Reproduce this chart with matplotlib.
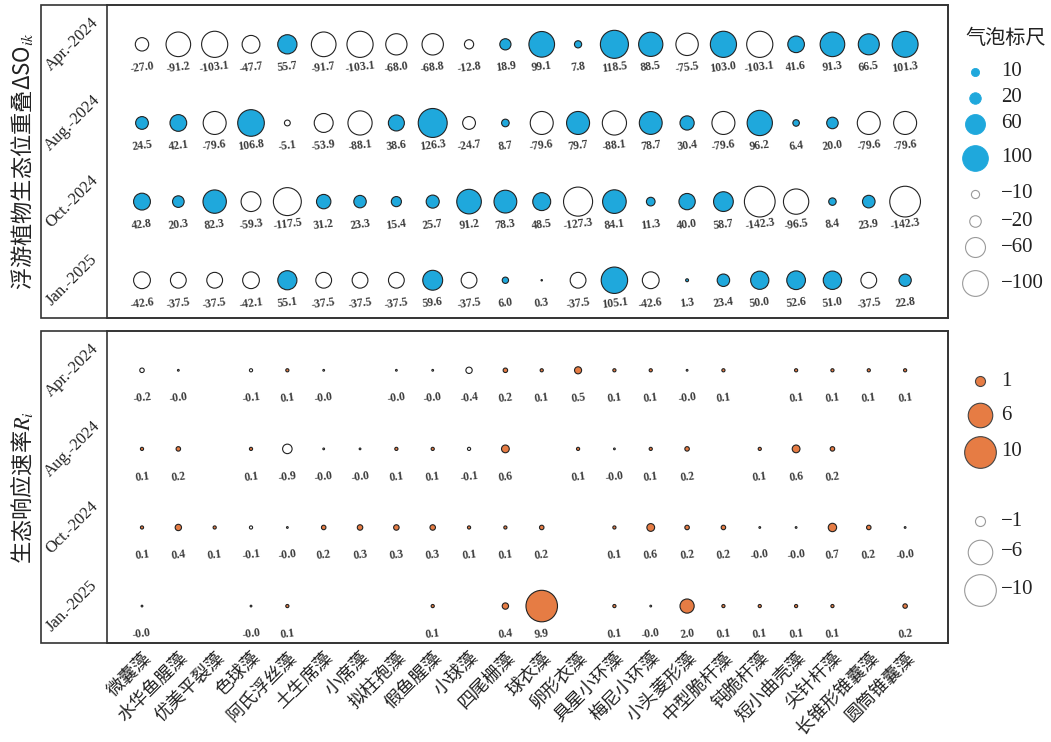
import numpy as np
import matplotlib
matplotlib.use("Agg")
import matplotlib.pyplot as plt
from matplotlib.patches import Rectangle

nan = np.nan

species = ["微囊藻", "水华鱼腥藻", "优美平裂藻", "色球藻", "阿氏浮丝藻", "土生席藻",
           "小席藻", "拟柱孢藻", "假鱼腥藻", "小球藻", "四尾栅藻", "球衣藻", "卵形衣藻",
           "具星小环藻", "梅尼小环藻", "小头菱形藻", "中型脆杆藻", "钝脆杆藻", "短小曲壳藻",
           "尖针杆藻", "长锥形锥囊藻", "圆筒锥囊藻"]
periods = ["Apr.-2024", "Aug.-2024", "Oct.-2024", "Jan.-2025"]

# niche overlap change (ΔSO_ik)
aso_apr = [-27.0, -91.2, -103.1, -47.7, 55.7, -91.7, -103.1, -68.0, -68.8, -12.8, 18.9,
           99.1, 7.8, 118.5, 88.5, -75.5, 103.0, -103.1, 41.6, 91.3, 66.5, 101.3]
aso_aug = [24.5, 42.1, -79.6, 106.8, -5.1, -53.9, -88.1, 38.6, 126.3, -24.7, 8.7,
           -79.6, 79.7, -88.1, 78.7, 30.4, -79.6, 96.2, 6.4, 20.0, -79.6, -79.6]
aso_oct = [42.8, 20.3, 82.3, -59.3, -117.5, 31.2, 23.3, 15.4, 25.7, 91.2, 78.3,
           48.5, -127.3, 84.1, 11.3, 40.0, 58.7, -142.3, -96.5, 8.4, 23.9, -142.3]
aso_jan = [-42.6, -37.5, -37.5, -42.1, 55.1, -37.5, -37.5, -37.5, 59.6, -37.5, 6.0,
           0.3, -37.5, 105.1, -42.6, 1.3, 23.4, 50.0, 52.6, 51.0, -37.5, 22.8]

# ecological response rate (R_i); nan = species absent in that period
rate_apr = [-0.2, -0.03, nan, -0.1, 0.1, -0.03, nan, -0.03, -0.03, -0.4, 0.2,
            0.1, 0.5, 0.1, 0.1, -0.03, 0.1, nan, 0.1, 0.1, 0.1, 0.1]
rate_aug = [0.1, 0.2, nan, 0.1, -0.9, -0.03, -0.03, 0.1, 0.1, -0.1, 0.6,
            nan, 0.1, -0.03, 0.1, 0.2, nan, 0.1, 0.6, 0.2, nan, nan]
rate_oct = [0.1, 0.4, 0.1, -0.1, -0.03, 0.2, 0.3, 0.3, 0.3, 0.1, 0.1,
            0.2, nan, 0.1, 0.6, 0.2, 0.2, -0.03, -0.03, 0.7, 0.2, -0.03]
rate_jan = [-0.03, nan, nan, -0.03, 0.1, nan, nan, nan, 0.1, nan, 0.4,
            9.9, nan, 0.1, -0.03, 2.0, 0.1, 0.1, 0.1, 0.1, nan, 0.2]

legend_aso = [10, 20, 60, 100, -10, -20, -60, -100]
legend_rate = [1, 6, 10, -1, -6, -10]

BLUE = "#1fa8dc"
ORANGE = "#e67c44"
SCALE_ASO = 3.44
SCALE_RATE = 52.0

CJK = ["Noto Sans CJK SC", "DejaVu Sans"]
SERIF = ["Liberation Serif", "DejaVu Serif"]
plt.rcParams["mathtext.fontset"] = "stix"

W, H = 1051, 742
fig = plt.figure(figsize=(W / 100, H / 100), dpi=100)


def fx(px):
    return px / W


def fy(py):
    return 1 - py / H


ax_top = fig.add_axes([fx(107), fy(318), fx(948) - fx(107), fy(5) - fy(318)])
ax_bot = fig.add_axes([fx(107), fy(643), fx(948) - fx(107), fy(331) - fy(643)])


def bubble_panel(ax, rows, scale, pos_color, label_offset):
    for i, vals in enumerate(rows):
        v = np.asarray(vals, float)
        x = np.arange(len(v))
        ok = ~np.isnan(v)
        colors = [pos_color if val > 0 else "white" for val in v[ok]]
        ax.scatter(x[ok], np.full(ok.sum(), i), s=scale * np.abs(v[ok]), c=colors,
                   edgecolors="#222222", linewidths=0.8, zorder=3)
        for xi, vi in zip(x[ok], v[ok]):
            ax.annotate(f"{vi:.1f}", (xi, i), xytext=(0, -label_offset),
                        textcoords="offset points", ha="center", va="center",
                        rotation=7, fontsize=8.5, fontweight="bold",
                        family=SERIF, color="#3c3c3c")
    ax.set_xlim(-0.963, 22.18)
    ax.set_yticks(range(len(periods)))
    ax.set_yticklabels(periods, rotation=45, ha="center", va="center",
                       fontsize=12, family=SERIF, color="#222222")
    ax.tick_params(axis="y", length=0, pad=25)
    for sp in ax.spines.values():
        sp.set_linewidth(1.2)
        sp.set_color("#333333")


bubble_panel(ax_top, [aso_apr, aso_aug, aso_oct, aso_jan], SCALE_ASO, BLUE, 16.5)
ax_top.set_ylim(3.48, -0.5)
ax_top.set_xticks([])

bubble_panel(ax_bot, [rate_apr, rate_aug, rate_oct, rate_jan], SCALE_RATE, ORANGE, 20)
ax_bot.set_ylim(3.47, -0.5)
ax_bot.set_xticks(range(len(species)))
ax_bot.set_xticklabels(species, rotation=45, ha="right", va="top",
                       rotation_mode="anchor", fontsize=13, family=CJK,
                       color="#222222")
ax_bot.tick_params(axis="x", length=0, pad=4)

# frames enclosing the period labels
for top, bot in [(5, 318), (331, 643)]:
    fig.add_artist(Rectangle((fx(41), fy(bot)), fx(948) - fx(41), fy(top) - fy(bot),
                             transform=fig.transFigure, fill=False,
                             lw=1.2, ec="#333333"))

# y-axis titles
fig.text(fx(22), fy(161), "浮游植物生态位重叠ΔSO$_{ik}$", rotation=90,
         ha="center", va="center", fontsize=16, family=CJK, color="#222222")
fig.text(fx(22), fy(487), "生态响应速率$R_i$", rotation=90,
         ha="center", va="center", fontsize=16, family=CJK, color="#222222")

# size keys
lax = fig.add_axes([0, 0, 1, 1], zorder=5)
lax.set_xlim(0, W)
lax.set_ylim(H, 0)
lax.axis("off")

lax.text(965, 38, "气泡标尺", ha="left", va="center", fontsize=14.5,
         family=CJK, color="#222222")
aso_key_y = [72, 98, 124, 158, 194, 221, 247, 283]
for val, yy in zip(legend_aso, aso_key_y):
    if val > 0:
        lax.scatter(975, yy, s=SCALE_ASO * abs(val), c=BLUE, edgecolors=BLUE, linewidths=0.6)
    else:
        lax.scatter(975, yy, s=SCALE_ASO * abs(val), c="white", edgecolors="#9a9a9a", linewidths=0.8)
    lax.text(1001, yy, f"{val}".replace("-", "\u2212"), ha="left", va="center",
             fontsize=15, family=SERIF, color="#222222")

rate_key_y = [381, 415, 452, 521, 552, 590]
for val, yy in zip(legend_rate, rate_key_y):
    if val > 0:
        lax.scatter(980, yy, s=SCALE_RATE * abs(val), c=ORANGE, edgecolors="#444444", linewidths=0.8)
    else:
        lax.scatter(980, yy, s=SCALE_RATE * abs(val), c="white", edgecolors="#9a9a9a", linewidths=0.8)
    lax.text(1001, yy, f"{val}".replace("-", "\u2212"), ha="left", va="center",
             fontsize=15, family=SERIF, color="#222222")

fig.savefig("out.png", dpi=100)
